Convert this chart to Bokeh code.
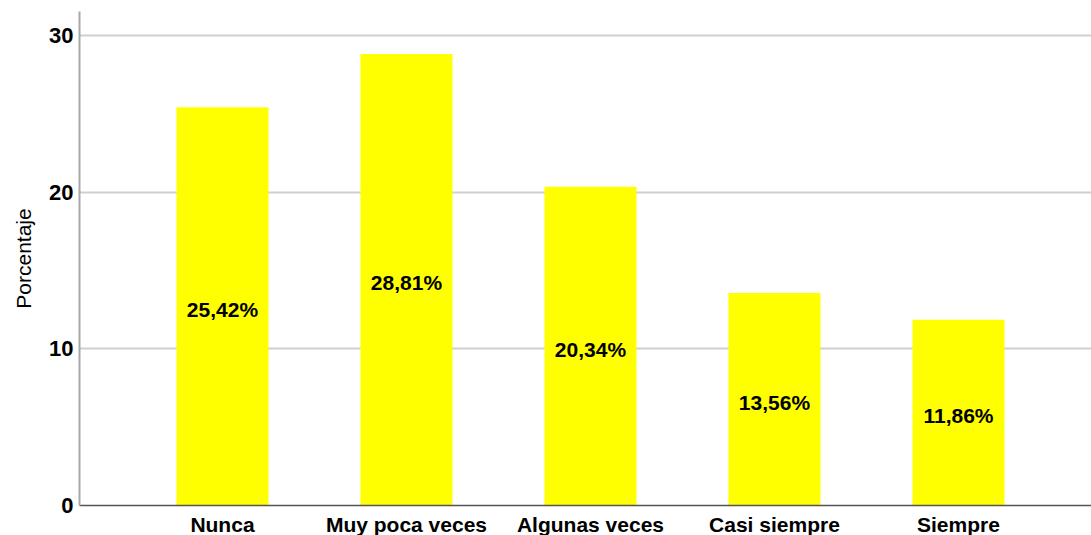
from bokeh.plotting import figure
from bokeh.models import Range1d, FixedTicker, ColumnDataSource
from bokeh.core.properties import value
from bokeh.embed import file_html
from bokeh.resources import INLINE

categories = ["Nunca", "Muy poca veces", "Algunas veces", "Casi siempre", "Siempre"]
percentages = [25.42, 28.81, 20.34, 13.56, 11.86]
y_ticks = [0, 10, 20, 30]

xs = list(range(len(categories)))
labels = [f"{v:.2f}%".replace(".", ",") for v in percentages]
src = ColumnDataSource(dict(x=xs, top=percentages, mid=[v / 2 for v in percentages], label=labels))

p = figure(
    frame_width=1012, frame_height=494,
    output_backend="svg", toolbar_location=None,
    x_range=Range1d(-0.777, 4.723), y_range=Range1d(0, 31.53),
    min_border_left=79, min_border_top=11, min_border_bottom=30, min_border_right=0,
)
p.outline_line_color = None
p.background_fill_color = "white"
p.border_fill_color = "white"

p.vbar(x="x", top="top", width=0.5, source=src, fill_color="#FFFF00", line_color=None)
p.text(x="x", y="mid", text="label", source=src, text_align="center", text_baseline="middle",
       text_font=value("Liberation Sans"), text_font_size="21px", text_font_style="bold",
       text_color="black", y_offset=3)

# y axis
p.yaxis.ticker = FixedTicker(ticks=y_ticks)
p.yaxis.axis_label = "Porcentaje"
p.yaxis.axis_label_text_font = "Liberation Sans"
p.yaxis.axis_label_text_font_size = "21px"
p.yaxis.axis_label_text_font_style = "normal"
p.yaxis.axis_label_text_color = "black"
p.yaxis.axis_label_standoff = 11
p.yaxis.major_label_text_font = "Liberation Sans"
p.yaxis.major_label_text_font_size = "22px"
p.yaxis.major_label_text_font_style = "bold"
p.yaxis.major_label_text_color = "black"
p.yaxis.major_label_standoff = 0
p.yaxis.major_tick_line_color = None
p.yaxis.minor_tick_line_color = None
p.yaxis.axis_line_color = "#a8a8a8"
p.yaxis.axis_line_width = 2

# x axis
p.xaxis.ticker = FixedTicker(ticks=xs)
p.xaxis.major_label_overrides = {i: c for i, c in zip(xs, categories)}
p.xaxis.major_label_text_font = "Liberation Sans"
p.xaxis.major_label_text_font_size = "21px"
p.xaxis.major_label_text_font_style = "bold"
p.xaxis.major_label_text_color = "black"
p.xaxis.major_label_standoff = 1
p.xaxis.major_tick_line_color = None
p.xaxis.minor_tick_line_color = None
p.xaxis.axis_line_color = "#555555"
p.xaxis.axis_line_width = 1.5

p.xgrid.grid_line_color = None
p.ygrid.ticker = FixedTicker(ticks=[10, 20, 30])
p.ygrid.grid_line_color = "#cfcfcf"
p.ygrid.grid_line_width = 2

open("out.html", "w").write(file_html(p, INLINE))
